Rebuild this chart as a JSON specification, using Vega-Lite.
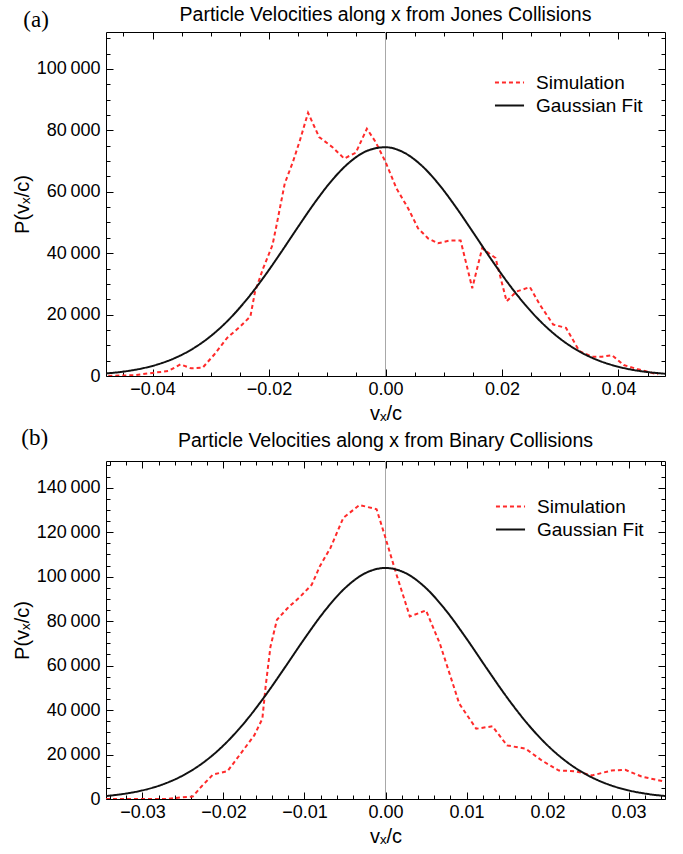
{
  "$schema": "https://vega.github.io/schema/vega-lite/v6.json",
  "background": "white",
  "padding": {"left": 12, "top": 5, "right": 10, "bottom": 3},
  "spacing": 3,
  "resolve": {"scale": {"color": "independent", "strokeDash": "independent"}, "legend": {"color": "independent", "strokeDash": "independent"}},
  "datasets": {
    "simA": [
      {"vx": -0.0476, "p": 0, "series": "Simulation"},
      {"vx": -0.043, "p": 300, "series": "Simulation"},
      {"vx": -0.0396, "p": 1100, "series": "Simulation"},
      {"vx": -0.0373, "p": 1600, "series": "Simulation"},
      {"vx": -0.0352, "p": 3800, "series": "Simulation"},
      {"vx": -0.0334, "p": 2500, "series": "Simulation"},
      {"vx": -0.0314, "p": 2700, "series": "Simulation"},
      {"vx": -0.0294, "p": 7000, "series": "Simulation"},
      {"vx": -0.0272, "p": 12400, "series": "Simulation"},
      {"vx": -0.0249, "p": 16200, "series": "Simulation"},
      {"vx": -0.0232, "p": 19400, "series": "Simulation"},
      {"vx": -0.0224, "p": 27500, "series": "Simulation"},
      {"vx": -0.021, "p": 35100, "series": "Simulation"},
      {"vx": -0.0194, "p": 42700, "series": "Simulation"},
      {"vx": -0.0187, "p": 49200, "series": "Simulation"},
      {"vx": -0.0173, "p": 62700, "series": "Simulation"},
      {"vx": -0.0159, "p": 69700, "series": "Simulation"},
      {"vx": -0.0147, "p": 76700, "series": "Simulation"},
      {"vx": -0.0133, "p": 85700, "series": "Simulation"},
      {"vx": -0.0114, "p": 77800, "series": "Simulation"},
      {"vx": -0.0091, "p": 74500, "series": "Simulation"},
      {"vx": -0.0071, "p": 70800, "series": "Simulation"},
      {"vx": -0.0051, "p": 72700, "series": "Simulation"},
      {"vx": -0.0032, "p": 80500, "series": "Simulation"},
      {"vx": -0.0017, "p": 76200, "series": "Simulation"},
      {"vx": 0.0, "p": 69700, "series": "Simulation"},
      {"vx": 0.0019, "p": 61000, "series": "Simulation"},
      {"vx": 0.0039, "p": 54550, "series": "Simulation"},
      {"vx": 0.0056, "p": 48070, "series": "Simulation"},
      {"vx": 0.0073, "p": 44830, "series": "Simulation"},
      {"vx": 0.009, "p": 43200, "series": "Simulation"},
      {"vx": 0.011, "p": 44100, "series": "Simulation"},
      {"vx": 0.0129, "p": 44100, "series": "Simulation"},
      {"vx": 0.0149, "p": 28600, "series": "Simulation"},
      {"vx": 0.0166, "p": 41600, "series": "Simulation"},
      {"vx": 0.0189, "p": 38400, "series": "Simulation"},
      {"vx": 0.0208, "p": 24300, "series": "Simulation"},
      {"vx": 0.0225, "p": 27500, "series": "Simulation"},
      {"vx": 0.0248, "p": 28950, "series": "Simulation"},
      {"vx": 0.0265, "p": 23230, "series": "Simulation"},
      {"vx": 0.0288, "p": 16750, "series": "Simulation"},
      {"vx": 0.031, "p": 15660, "series": "Simulation"},
      {"vx": 0.0333, "p": 8100, "series": "Simulation"},
      {"vx": 0.0355, "p": 6260, "series": "Simulation"},
      {"vx": 0.0372, "p": 6260, "series": "Simulation"},
      {"vx": 0.0389, "p": 6800, "series": "Simulation"},
      {"vx": 0.0409, "p": 3560, "series": "Simulation"},
      {"vx": 0.0434, "p": 2170, "series": "Simulation"},
      {"vx": 0.0468, "p": 550, "series": "Simulation"}
    ],
    "fitA": [
      {"vx": -0.048, "p": 828, "series": "Gaussian Fit"},
      {"vx": -0.045, "p": 1433, "series": "Gaussian Fit"},
      {"vx": -0.042, "p": 2391, "series": "Gaussian Fit"},
      {"vx": -0.039, "p": 3852, "series": "Gaussian Fit"},
      {"vx": -0.036, "p": 5989, "series": "Gaussian Fit"},
      {"vx": -0.033, "p": 8989, "series": "Gaussian Fit"},
      {"vx": -0.03, "p": 13015, "series": "Gaussian Fit"},
      {"vx": -0.027, "p": 18190, "series": "Gaussian Fit"},
      {"vx": -0.024, "p": 24531, "series": "Gaussian Fit"},
      {"vx": -0.021, "p": 31924, "series": "Gaussian Fit"},
      {"vx": -0.018, "p": 40094, "series": "Gaussian Fit"},
      {"vx": -0.015, "p": 48592, "series": "Gaussian Fit"},
      {"vx": -0.012, "p": 56829, "series": "Gaussian Fit"},
      {"vx": -0.009, "p": 64142, "series": "Gaussian Fit"},
      {"vx": -0.006, "p": 69863, "series": "Gaussian Fit"},
      {"vx": -0.003, "p": 73433, "series": "Gaussian Fit"},
      {"vx": 0.0, "p": 74487, "series": "Gaussian Fit"},
      {"vx": 0.003, "p": 72912, "series": "Gaussian Fit"},
      {"vx": 0.006, "p": 68875, "series": "Gaussian Fit"},
      {"vx": 0.009, "p": 62786, "series": "Gaussian Fit"},
      {"vx": 0.012, "p": 55234, "series": "Gaussian Fit"},
      {"vx": 0.015, "p": 46890, "series": "Gaussian Fit"},
      {"vx": 0.018, "p": 38417, "series": "Gaussian Fit"},
      {"vx": 0.021, "p": 30371, "series": "Gaussian Fit"},
      {"vx": 0.024, "p": 23171, "series": "Gaussian Fit"},
      {"vx": 0.027, "p": 17061, "series": "Gaussian Fit"},
      {"vx": 0.03, "p": 12123, "series": "Gaussian Fit"},
      {"vx": 0.033, "p": 8312, "series": "Gaussian Fit"},
      {"vx": 0.036, "p": 5500, "series": "Gaussian Fit"},
      {"vx": 0.039, "p": 3512, "series": "Gaussian Fit"},
      {"vx": 0.042, "p": 2164, "series": "Gaussian Fit"},
      {"vx": 0.045, "p": 1287, "series": "Gaussian Fit"},
      {"vx": 0.048, "p": 738, "series": "Gaussian Fit"}
    ],
    "simB": [
      {"vx": -0.0345, "p": 0, "series": "Simulation"},
      {"vx": -0.0269, "p": 0, "series": "Simulation"},
      {"vx": -0.0252, "p": 800, "series": "Simulation"},
      {"vx": -0.0238, "p": 1100, "series": "Simulation"},
      {"vx": -0.0228, "p": 5300, "series": "Simulation"},
      {"vx": -0.0213, "p": 11000, "series": "Simulation"},
      {"vx": -0.0195, "p": 12500, "series": "Simulation"},
      {"vx": -0.0179, "p": 20300, "series": "Simulation"},
      {"vx": -0.0162, "p": 28600, "series": "Simulation"},
      {"vx": -0.0152, "p": 36100, "series": "Simulation"},
      {"vx": -0.0148, "p": 50500, "series": "Simulation"},
      {"vx": -0.0142, "p": 68500, "series": "Simulation"},
      {"vx": -0.0134, "p": 80600, "series": "Simulation"},
      {"vx": -0.0121, "p": 85800, "series": "Simulation"},
      {"vx": -0.0105, "p": 91100, "series": "Simulation"},
      {"vx": -0.0091, "p": 96400, "series": "Simulation"},
      {"vx": -0.0081, "p": 104700, "series": "Simulation"},
      {"vx": -0.0068, "p": 112900, "series": "Simulation"},
      {"vx": -0.0052, "p": 126500, "series": "Simulation"},
      {"vx": -0.0032, "p": 132200, "series": "Simulation"},
      {"vx": -0.0011, "p": 130300, "series": "Simulation"},
      {"vx": -0.0001, "p": 118600, "series": "Simulation"},
      {"vx": 0.0013, "p": 101600, "series": "Simulation"},
      {"vx": 0.003, "p": 82100, "series": "Simulation"},
      {"vx": 0.005, "p": 84800, "series": "Simulation"},
      {"vx": 0.0067, "p": 70000, "series": "Simulation"},
      {"vx": 0.0079, "p": 56500, "series": "Simulation"},
      {"vx": 0.0091, "p": 42900, "series": "Simulation"},
      {"vx": 0.0112, "p": 31600, "series": "Simulation"},
      {"vx": 0.0132, "p": 32700, "series": "Simulation"},
      {"vx": 0.015, "p": 24100, "series": "Simulation"},
      {"vx": 0.0173, "p": 22600, "series": "Simulation"},
      {"vx": 0.0193, "p": 17300, "series": "Simulation"},
      {"vx": 0.0214, "p": 12800, "series": "Simulation"},
      {"vx": 0.0234, "p": 12500, "series": "Simulation"},
      {"vx": 0.0255, "p": 10600, "series": "Simulation"},
      {"vx": 0.0279, "p": 12800, "series": "Simulation"},
      {"vx": 0.0296, "p": 13100, "series": "Simulation"},
      {"vx": 0.0316, "p": 10100, "series": "Simulation"},
      {"vx": 0.0345, "p": 7800, "series": "Simulation"}
    ],
    "fitB": [
      {"vx": -0.035, "p": 1184, "series": "Gaussian Fit"},
      {"vx": -0.0325, "p": 2193, "series": "Gaussian Fit"},
      {"vx": -0.03, "p": 3881, "series": "Gaussian Fit"},
      {"vx": -0.0275, "p": 6560, "series": "Gaussian Fit"},
      {"vx": -0.025, "p": 10597, "series": "Gaussian Fit"},
      {"vx": -0.0225, "p": 16353, "series": "Gaussian Fit"},
      {"vx": -0.02, "p": 24108, "series": "Gaussian Fit"},
      {"vx": -0.0175, "p": 33949, "series": "Gaussian Fit"},
      {"vx": -0.015, "p": 45679, "series": "Gaussian Fit"},
      {"vx": -0.0125, "p": 58717, "series": "Gaussian Fit"},
      {"vx": -0.01, "p": 72111, "series": "Gaussian Fit"},
      {"vx": -0.0075, "p": 84601, "series": "Gaussian Fit"},
      {"vx": -0.005, "p": 94833, "series": "Gaussian Fit"},
      {"vx": -0.0025, "p": 101555, "series": "Gaussian Fit"},
      {"vx": 0.0, "p": 103900, "series": "Gaussian Fit"},
      {"vx": 0.0025, "p": 101555, "series": "Gaussian Fit"},
      {"vx": 0.005, "p": 94833, "series": "Gaussian Fit"},
      {"vx": 0.0075, "p": 84601, "series": "Gaussian Fit"},
      {"vx": 0.01, "p": 72111, "series": "Gaussian Fit"},
      {"vx": 0.0125, "p": 58717, "series": "Gaussian Fit"},
      {"vx": 0.015, "p": 45679, "series": "Gaussian Fit"},
      {"vx": 0.0175, "p": 33949, "series": "Gaussian Fit"},
      {"vx": 0.02, "p": 24108, "series": "Gaussian Fit"},
      {"vx": 0.0225, "p": 16353, "series": "Gaussian Fit"},
      {"vx": 0.025, "p": 10597, "series": "Gaussian Fit"},
      {"vx": 0.0275, "p": 6560, "series": "Gaussian Fit"},
      {"vx": 0.03, "p": 3881, "series": "Gaussian Fit"},
      {"vx": 0.0325, "p": 2193, "series": "Gaussian Fit"},
      {"vx": 0.035, "p": 1184, "series": "Gaussian Fit"}
    ]
  },
  "vconcat": [
    {
      "width": 559,
      "height": 344,
      "title": {"text": "Particle Velocities along x from Jones Collisions", "offset": -17},
      "layer": [
        {
          "data": {"values": [{}]},
          "mark": {"type": "rule", "color": "#a8a8a8", "strokeWidth": 1},
          "encoding": {"x": {"datum": 0, "type": "quantitative", "scale": {"domain": [-0.048, 0.048], "nice": false, "zero": false}, "axis": null}}
        },
        {
          "data": {"name": "simA"},
          "mark": {"type": "line", "strokeWidth": 2, "clip": true},
          "encoding": {
            "x": {"field": "vx", "type": "quantitative", "scale": {"domain": [-0.048, 0.048], "nice": false, "zero": false},
              "axis": {"orient": "bottom", "title": "vₓ/c",
                "values": [-0.045, -0.04, -0.035, -0.03, -0.025, -0.02, -0.015, -0.01, -0.005, 0, 0.005, 0.01, 0.015, 0.02, 0.025, 0.03, 0.035, 0.04, 0.045],
                "labelExpr": "abs(datum.value/0.02 - round(datum.value/0.02)) < 0.001 ? format(datum.value, '.2f') : ''",
                "tickSize": {"condition": {"test": "abs(datum.value/0.02 - round(datum.value/0.02)) < 0.001", "value": -7}, "value": -4},
                "labelPadding": 11, "titlePadding": 2}},
            "y": {"field": "p", "type": "quantitative", "scale": {"domain": [0, 112000], "nice": false, "zero": false},
              "axis": {"orient": "left", "title": "P(vₓ/c)",
                "values": [0, 5000, 10000, 15000, 20000, 25000, 30000, 35000, 40000, 45000, 50000, 55000, 60000, 65000, 70000, 75000, 80000, 85000, 90000, 95000, 100000, 105000, 110000],
                "labelExpr": "abs(datum.value/20000 - round(datum.value/20000)) < 0.001 ? replace(format(datum.value, ','), ',', '\u2009') : ''",
                "tickSize": {"condition": {"test": "abs(datum.value/20000 - round(datum.value/20000)) < 0.001", "value": -7}, "value": -4},
                "labelPadding": 13, "titlePadding": 4}},
            "color": {"field": "series", "type": "nominal", "scale": {"domain": ["Simulation", "Gaussian Fit"], "range": ["#ff2a2a", "#111111"]},
              "legend": {"orient": "none", "legendX": 391, "legendY": 38, "title": null, "symbolType": "M-1.3,0H1.3", "symbolSize": 500, "symbolStrokeWidth": 2, "labelFont": "Liberation Sans", "labelFontSize": 19, "labelColor": "black", "rowPadding": 0, "labelOffset": 14}},
            "strokeDash": {"field": "series", "type": "nominal", "scale": {"domain": ["Simulation", "Gaussian Fit"], "range": [[4, 3], [1, 0]]},
              "legend": {"orient": "none", "legendX": 391, "legendY": 38, "title": null, "symbolType": "M-1.3,0H1.3", "symbolSize": 500, "symbolStrokeWidth": 2, "labelFont": "Liberation Sans", "labelFontSize": 19, "labelColor": "black", "rowPadding": 0, "labelOffset": 14}}
          }
        },
        {
          "data": {"name": "fitA"},
          "mark": {"type": "line", "strokeWidth": 2, "interpolate": "monotone", "clip": true},
          "encoding": {
            "x": {"field": "vx", "type": "quantitative", "scale": {"domain": [-0.048, 0.048], "nice": false, "zero": false},
              "axis": {"orient": "top", "title": null, "labels": false,
                "values": [-0.045, -0.04, -0.035, -0.03, -0.025, -0.02, -0.015, -0.01, -0.005, 0, 0.005, 0.01, 0.015, 0.02, 0.025, 0.03, 0.035, 0.04, 0.045],
                "tickSize": {"condition": {"test": "abs(datum.value/0.02 - round(datum.value/0.02)) < 0.001", "value": -7}, "value": -4}}},
            "y": {"field": "p", "type": "quantitative", "scale": {"domain": [0, 112000], "nice": false, "zero": false},
              "axis": {"orient": "right", "title": null, "labels": false,
                "values": [0, 5000, 10000, 15000, 20000, 25000, 30000, 35000, 40000, 45000, 50000, 55000, 60000, 65000, 70000, 75000, 80000, 85000, 90000, 95000, 100000, 105000, 110000],
                "tickSize": {"condition": {"test": "abs(datum.value/20000 - round(datum.value/20000)) < 0.001", "value": -7}, "value": -4}}},
            "color": {"field": "series", "type": "nominal", "scale": {"domain": ["Simulation", "Gaussian Fit"], "range": ["#ff2a2a", "#111111"]},
              "legend": {"orient": "none", "legendX": 391, "legendY": 38, "title": null, "symbolType": "M-1.3,0H1.3", "symbolSize": 500, "symbolStrokeWidth": 2, "labelFont": "Liberation Sans", "labelFontSize": 19, "labelColor": "black", "rowPadding": 0, "labelOffset": 14}},
            "strokeDash": {"field": "series", "type": "nominal", "scale": {"domain": ["Simulation", "Gaussian Fit"], "range": [[4, 3], [1, 0]]},
              "legend": {"orient": "none", "legendX": 391, "legendY": 38, "title": null, "symbolType": "M-1.3,0H1.3", "symbolSize": 500, "symbolStrokeWidth": 2, "labelFont": "Liberation Sans", "labelFontSize": 19, "labelColor": "black", "rowPadding": 0, "labelOffset": 14}}
          }
        },
        {
          "data": {"values": [{"label": "(a)"}]},
          "mark": {"type": "text", "font": "Liberation Serif", "fontSize": 23, "color": "black", "align": "center", "baseline": "middle"},
          "encoding": {
            "x": {"datum": -0.06, "type": "quantitative", "axis": null},
            "y": {"datum": 116000, "type": "quantitative", "axis": null},
            "text": {"field": "label"}
          }
        }
      ],
      "resolve": {"axis": {"x": "independent", "y": "independent"}}
    },
    {
      "width": 559,
      "height": 338,
      "title": {"text": "Particle Velocities along x from Binary Collisions", "offset": -25},
      "layer": [
        {
          "data": {"values": [{}]},
          "mark": {"type": "rule", "color": "#a8a8a8", "strokeWidth": 1},
          "encoding": {"x": {"datum": 0, "type": "quantitative", "scale": {"domain": [-0.0345, 0.0345], "nice": false, "zero": false}, "axis": null}}
        },
        {
          "data": {"name": "simB"},
          "mark": {"type": "line", "strokeWidth": 2, "clip": true},
          "encoding": {
            "x": {"field": "vx", "type": "quantitative", "scale": {"domain": [-0.0345, 0.0345], "nice": false, "zero": false},
              "axis": {"orient": "bottom", "title": "vₓ/c",
                "values": [-0.034, -0.032, -0.03, -0.028, -0.026, -0.024, -0.022, -0.02, -0.018, -0.016, -0.014, -0.012, -0.01, -0.008, -0.006, -0.004, -0.002, 0, 0.002, 0.004, 0.006, 0.008, 0.01, 0.012, 0.014, 0.016, 0.018, 0.02, 0.022, 0.024, 0.026, 0.028, 0.03, 0.032, 0.034],
                "labelExpr": "abs(datum.value/0.01 - round(datum.value/0.01)) < 0.001 ? format(datum.value, '.2f') : ''",
                "tickSize": {"condition": {"test": "abs(datum.value/0.01 - round(datum.value/0.01)) < 0.001", "value": -7}, "value": -4},
                "labelPadding": 11, "titlePadding": 2}},
            "y": {"field": "p", "type": "quantitative", "scale": {"domain": [0, 152000], "nice": false, "zero": false},
              "axis": {"orient": "left", "title": "P(vₓ/c)",
                "values": [0, 5000, 10000, 15000, 20000, 25000, 30000, 35000, 40000, 45000, 50000, 55000, 60000, 65000, 70000, 75000, 80000, 85000, 90000, 95000, 100000, 105000, 110000, 115000, 120000, 125000, 130000, 135000, 140000, 145000, 150000],
                "labelExpr": "abs(datum.value/20000 - round(datum.value/20000)) < 0.001 ? replace(format(datum.value, ','), ',', '\u2009') : ''",
                "tickSize": {"condition": {"test": "abs(datum.value/20000 - round(datum.value/20000)) < 0.001", "value": -7}, "value": -4},
                "labelPadding": 13, "titlePadding": 4}},
            "color": {"field": "series", "type": "nominal", "scale": {"domain": ["Simulation", "Gaussian Fit"], "range": ["#ff2a2a", "#111111"]},
              "legend": {"orient": "none", "legendX": 392, "legendY": 33, "title": null, "symbolType": "M-1.3,0H1.3", "symbolSize": 500, "symbolStrokeWidth": 2, "labelFont": "Liberation Sans", "labelFontSize": 19, "labelColor": "black", "rowPadding": 0, "labelOffset": 14}},
            "strokeDash": {"field": "series", "type": "nominal", "scale": {"domain": ["Simulation", "Gaussian Fit"], "range": [[4, 3], [1, 0]]},
              "legend": {"orient": "none", "legendX": 392, "legendY": 33, "title": null, "symbolType": "M-1.3,0H1.3", "symbolSize": 500, "symbolStrokeWidth": 2, "labelFont": "Liberation Sans", "labelFontSize": 19, "labelColor": "black", "rowPadding": 0, "labelOffset": 14}}
          }
        },
        {
          "data": {"name": "fitB"},
          "mark": {"type": "line", "strokeWidth": 2, "interpolate": "monotone", "clip": true},
          "encoding": {
            "x": {"field": "vx", "type": "quantitative", "scale": {"domain": [-0.0345, 0.0345], "nice": false, "zero": false},
              "axis": {"orient": "top", "title": null, "labels": false,
                "values": [-0.034, -0.032, -0.03, -0.028, -0.026, -0.024, -0.022, -0.02, -0.018, -0.016, -0.014, -0.012, -0.01, -0.008, -0.006, -0.004, -0.002, 0, 0.002, 0.004, 0.006, 0.008, 0.01, 0.012, 0.014, 0.016, 0.018, 0.02, 0.022, 0.024, 0.026, 0.028, 0.03, 0.032, 0.034],
                "tickSize": {"condition": {"test": "abs(datum.value/0.01 - round(datum.value/0.01)) < 0.001", "value": -7}, "value": -4}}},
            "y": {"field": "p", "type": "quantitative", "scale": {"domain": [0, 152000], "nice": false, "zero": false},
              "axis": {"orient": "right", "title": null, "labels": false,
                "values": [0, 5000, 10000, 15000, 20000, 25000, 30000, 35000, 40000, 45000, 50000, 55000, 60000, 65000, 70000, 75000, 80000, 85000, 90000, 95000, 100000, 105000, 110000, 115000, 120000, 125000, 130000, 135000, 140000, 145000, 150000],
                "tickSize": {"condition": {"test": "abs(datum.value/20000 - round(datum.value/20000)) < 0.001", "value": -7}, "value": -4}}},
            "color": {"field": "series", "type": "nominal", "scale": {"domain": ["Simulation", "Gaussian Fit"], "range": ["#ff2a2a", "#111111"]},
              "legend": {"orient": "none", "legendX": 392, "legendY": 33, "title": null, "symbolType": "M-1.3,0H1.3", "symbolSize": 500, "symbolStrokeWidth": 2, "labelFont": "Liberation Sans", "labelFontSize": 19, "labelColor": "black", "rowPadding": 0, "labelOffset": 14}},
            "strokeDash": {"field": "series", "type": "nominal", "scale": {"domain": ["Simulation", "Gaussian Fit"], "range": [[4, 3], [1, 0]]},
              "legend": {"orient": "none", "legendX": 392, "legendY": 33, "title": null, "symbolType": "M-1.3,0H1.3", "symbolSize": 500, "symbolStrokeWidth": 2, "labelFont": "Liberation Sans", "labelFontSize": 19, "labelColor": "black", "rowPadding": 0, "labelOffset": 14}}
          }
        },
        {
          "data": {"values": [{"label": "(b)"}]},
          "mark": {"type": "text", "font": "Liberation Serif", "fontSize": 23, "color": "black", "align": "center", "baseline": "middle"},
          "encoding": {
            "x": {"datum": -0.0433, "type": "quantitative", "axis": null},
            "y": {"datum": 162400, "type": "quantitative", "axis": null},
            "text": {"field": "label"}
          }
        }
      ],
      "resolve": {"axis": {"x": "independent", "y": "independent"}}
    }
  ],
  "config": {
    "view": {"stroke": null},
    "axis": {
      "grid": false,
      "domainColor": "black",
      "domainWidth": 1,
      "tickColor": "black",
      "tickWidth": 1,
      "labelFont": "Liberation Sans",
      "labelFontSize": 18,
      "labelColor": "black",
      "labelOverlap": false,
      "labelFlush": false,
      "labelBound": false,
      "titleFont": "Liberation Sans",
      "titleFontSize": 20,
      "titleFontWeight": "normal",
      "titleColor": "black"
    },
    "title": {"font": "Liberation Sans", "fontSize": 19.5, "fontWeight": "normal", "color": "black"}
  }
}
